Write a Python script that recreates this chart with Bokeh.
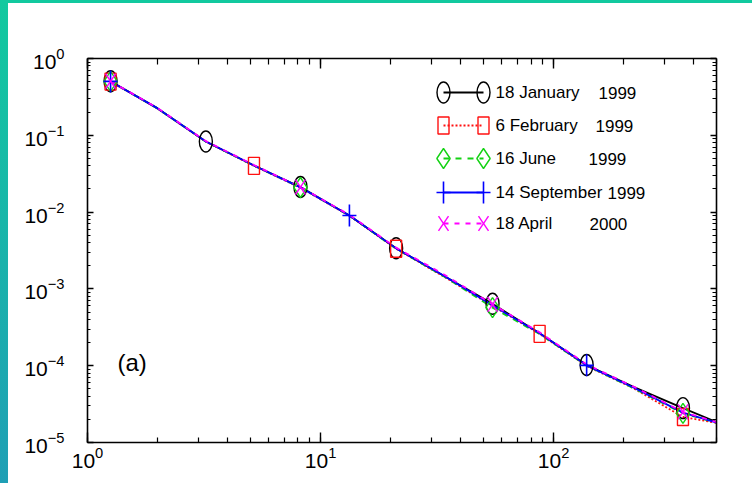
import math
from bokeh.plotting import figure
from bokeh.models import Range1d, FixedTicker, LogTickFormatter, Label, LogAxis
from bokeh.embed import file_html
from bokeh.resources import INLINE

# ---------------- data ----------------
x_vals = [1.256, 2.0, 3.22, 5.18, 8.2, 13.3, 21.1, 34.0, 54.7, 87.1, 138.6, 220.0, 359.0, 500.0]

jan_y = [0.505, 0.224, 0.0830, 0.0404, 0.0212, 0.00905, 0.00338, 0.00146, 0.00064, 0.000265, 0.000102, 5.3e-5, 2.8e-5, 1.85e-5]
feb_y = [0.500, 0.222, 0.0825, 0.0400, 0.0207, 0.00895, 0.00334, 0.00143, 0.00060, 0.000260, 0.000099, 5.1e-5, 2.15e-5, 1.80e-5]
jun_y = [0.502, 0.223, 0.0828, 0.0402, 0.0209, 0.00900, 0.00332, 0.00144, 0.00057, 0.000258, 0.000100, 5.1e-5, 2.4e-5, 1.81e-5]
sep_y = [0.503, 0.224, 0.0830, 0.0405, 0.0210, 0.00903, 0.00337, 0.00147, 0.00061, 0.000264, 0.000101, 5.2e-5, 2.45e-5, 1.82e-5]
apr_y = [0.506, 0.226, 0.0840, 0.0410, 0.0212, 0.00920, 0.00345, 0.00153, 0.00063, 0.000272, 0.000104, 5.35e-5, 2.5e-5, 1.84e-5]

# indices of the points that carry a marker
jan_marks = [0, 2, 4, 6, 8, 10, 12]
feb_marks = [0, 3, 6, 9, 12]
jun_marks = [0, 4, 8, 12]
sep_marks = [0, 5, 10]
apr_marks = [0, 4, 8, 12]

series_names = ["18 January", "6 February", "16 June", "14 September", "18 April"]
series_years = ["1999", "1999", "1999", "1999", "2000"]

x_major = [1, 10, 100]
y_major = [1e-5, 1e-4, 1e-3, 1e-2, 1e-1, 1]

X_MIN, X_MAX = 1, 500
Y_MIN, Y_MAX = 1e-5, 1

# ---------------- layout ----------------
W, H = 752, 483
B_L, B_R, B_T, B_B = 87, 36, 58, 41
FW, FH = W - B_L - B_R, H - B_T - B_B

LABEL_FONT = "'Liberation Sans Narrow', 'Liberation Sans', sans-serif"

p = figure(width=W, height=H, x_axis_type="log", y_axis_type="log",
           x_range=Range1d(X_MIN, X_MAX), y_range=Range1d(Y_MIN, Y_MAX),
           output_backend="svg", toolbar_location=None,
           min_border_left=B_L, min_border_right=B_R,
           min_border_top=B_T, min_border_bottom=B_B)
p.background_fill_color = "white"
p.border_fill_color = None
p.outline_line_color = None
p.xgrid.visible = False
p.ygrid.visible = False
# page decoration: teal strip along the top and a teal-to-blue strip down the left
p.styles = {
    "background": ("linear-gradient(#12c99f, #12c99f) 0 0 / 100% 3px no-repeat, "
                   "linear-gradient(#12c99f, #1f9fb5) 0 0 / 8px 100% no-repeat, #ffffff"),
}

x_minor = [k * 10 ** d for d in range(0, 3) for k in range(1, 10) if k * 10 ** d <= X_MAX]
y_minor = [k * 10.0 ** d for d in range(-5, 0) for k in range(1, 10)]

def style_axis(ax, major, minor, tin, tmin, labels):
    ax.ticker = FixedTicker(ticks=major, minor_ticks=minor)
    ax.formatter = LogTickFormatter()
    ax.axis_line_color = "black"
    ax.axis_line_width = 1.6
    ax.major_tick_line_color = "black"
    ax.major_tick_line_width = 1.4
    ax.minor_tick_line_color = "black"
    ax.minor_tick_line_width = 1.2
    ax.major_tick_in = tin
    ax.major_tick_out = 0
    ax.minor_tick_in = tmin
    ax.minor_tick_out = 0
    if labels:
        ax.major_label_text_font = LABEL_FONT
        ax.major_label_text_font_size = "21px"
        ax.major_label_text_color = "black"
    else:
        ax.major_label_text_font_size = "1px"
        ax.major_label_text_color = None
        ax.major_label_standoff = 0

xb = p.xaxis[0]
yl = p.yaxis[0]
style_axis(xb, x_major, x_minor, 10, 5, True)
style_axis(yl, y_major, y_minor, 6, 3, True)
xb.major_label_standoff = 4
yl.major_label_standoff = 23

xt = LogAxis()
style_axis(xt, x_major, x_minor, 10, 6, False)
p.add_layout(xt, "above")
yr = LogAxis()
style_axis(yr, y_major, y_minor, 6, 4, False)
p.add_layout(yr, "right")

# ---------------- series ----------------
BLACK, RED, GREEN, BLUE, MAG = "black", "#ff1010", "#14d214", "#0000ff", "#ff00ff"

def pick(arr, idx):
    return [arr[i] for i in idx]

LW = 1.8
p.line(x_vals, jan_y, line_color=BLACK, line_width=LW)
p.line(x_vals, feb_y, line_color=RED, line_width=LW, line_dash="2 2")
p.line(x_vals, jun_y, line_color=GREEN, line_width=LW, line_dash="6 6")
p.line(x_vals, sep_y, line_color=BLUE, line_width=LW)
p.line(x_vals, apr_y, line_color=MAG, line_width=LW, line_dash="5 6")

def draw_markers(kind, xs, ys):
    if kind == "circle":
        p.ellipse(xs, ys, width=13, height=21, width_units="screen", height_units="screen",
                  fill_color=None, line_color=BLACK, line_width=1.4)
    elif kind == "square":
        p.rect(xs, ys, width=11, height=17, width_units="screen", height_units="screen",
               fill_color=None, line_color=RED, line_width=1.4)
    elif kind == "diamond":
        p.scatter(xs, ys, marker="diamond", size=20, fill_color=None, line_color=GREEN, line_width=1.4)
    elif kind == "plus":
        p.scatter(xs, ys, marker="dash", size=22, angle=math.pi / 2, line_color=BLUE, line_width=1.6)
        p.scatter(xs, ys, marker="dash", size=14, line_color=BLUE, line_width=1.6)
    elif kind == "x":
        p.scatter(xs, ys, marker="dash", size=18, angle=0.98, line_color=MAG, line_width=1.4)
        p.scatter(xs, ys, marker="dash", size=18, angle=-0.98, line_color=MAG, line_width=1.4)

draw_markers("circle", pick(x_vals, jan_marks), pick(jan_y, jan_marks))
draw_markers("square", pick(x_vals, feb_marks), pick(feb_y, feb_marks))
draw_markers("diamond", pick(x_vals, jun_marks), pick(jun_y, jun_marks))
draw_markers("plus", pick(x_vals, sep_marks), pick(sep_y, sep_marks))
draw_markers("x", pick(x_vals, apr_marks), pick(apr_y, apr_marks))

# ---------------- legend (gnuplot style, markers at both ends) ----------------
def fx(px):  # frame pixel (from left) -> data x
    lo, hi = math.log10(X_MIN), math.log10(X_MAX)
    return 10 ** (lo + px / FW * (hi - lo))

def fy(py):  # frame pixel (from top) -> data y
    lo, hi = math.log10(Y_MIN), math.log10(Y_MAX)
    return 10 ** (hi - py / FH * (hi - lo))

leg_rows = [34, 67, 100, 134, 165]
leg_x0, leg_x1 = 356, 396
styles = [(BLACK, None, "circle"), (RED, "2 2", "square"), (GREEN, "6 6", "diamond"),
          (BLUE, None, "plus"), (MAG, "5 6", "x")]
name_x = 408
year_x = [511, 508, 501, 520, 502]
LEG_FS = "17px"

for i, (col, dash, kind) in enumerate(styles):
    ry = fy(leg_rows[i])
    xs = [fx(leg_x0), fx(leg_x1)]
    kw = dict(line_color=col, line_width=LW)
    if dash:
        kw["line_dash"] = dash
    p.line(xs, [ry, ry], **kw)
    draw_markers(kind, xs, [ry, ry])
    p.add_layout(Label(x=name_x, y=FH - leg_rows[i], x_units="screen", y_units="screen",
                       text=series_names[i], text_font=LABEL_FONT, text_font_size=LEG_FS,
                       text_baseline="middle", text_color="black"))
    p.add_layout(Label(x=year_x[i], y=FH - leg_rows[i], x_units="screen", y_units="screen",
                       text=series_years[i], text_font=LABEL_FONT, text_font_size=LEG_FS,
                       text_baseline="middle", text_color="black"))

p.add_layout(Label(x=30, y=80, x_units="screen", y_units="screen", text="(a)",
                   text_font=LABEL_FONT, text_font_size="24px", text_baseline="middle",
                   text_color="black"))

open("out.html", "w").write(file_html(p, INLINE))
